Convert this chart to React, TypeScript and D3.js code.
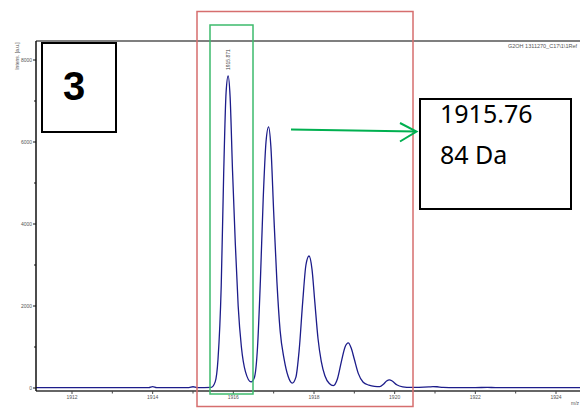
import React from "react";
import * as d3 from "d3";

// Spectrum profile (m/z, intensity in a.u.)
const mzValues = [
  1911.1, 1913.9, 1914.0, 1914.1, 1914.9, 1915.0, 1915.1, 1915.45, 1915.55, 1915.62, 1915.7,
  1915.76, 1915.82, 1915.871, 1915.92, 1915.98, 1916.05, 1916.12, 1916.2, 1916.3, 1916.44,
  1916.52, 1916.6, 1916.67, 1916.74, 1916.81, 1916.874, 1916.93, 1917.0, 1917.08, 1917.16,
  1917.26, 1917.36, 1917.46, 1917.55, 1917.63, 1917.72, 1917.8, 1917.877, 1917.95, 1918.02,
  1918.1, 1918.18, 1918.27, 1918.38, 1918.48, 1918.58, 1918.68, 1918.77, 1918.85, 1918.92,
  1919.0, 1919.1, 1919.22, 1919.36, 1919.5, 1919.63, 1919.72, 1919.8, 1919.87, 1919.94,
  1920.05, 1920.2, 1920.4, 1920.6, 1920.85, 1920.95, 1921.05, 1921.2, 1921.5, 1922.0,
  1922.3, 1922.5, 1924.7,
];
const intensityValues = [
  10, 10, 35, 10, 10, 30, 10, 15, 150, 700, 2500,
  5200, 7200, 7610, 7100, 5300, 3500, 2000, 1000, 400, 150,
  250, 1000, 2600, 4600, 6000, 6370, 5900, 4300, 2600, 1400,
  700, 280, 120, 260, 900, 2100, 3000, 3220, 2900, 2100,
  1200, 650, 300, 110, 60, 220, 650, 1000, 1100, 980,
  700, 350, 140, 70, 40, 35, 90, 170, 200, 170,
  80, 30, 15, 15, 25, 35, 30, 15, 10, 10,
  15, 10, 10,
];

const xTickValues = [1912, 1914, 1916, 1918, 1920, 1922, 1924];
const xMinorTicks = [1913, 1915, 1917, 1919, 1921, 1923];
const yTickValues = [0, 2000, 4000, 6000, 8000];
const yMinorTicks = [1000, 3000, 5000, 7000];

const peakLabel = "1915.871";
const peakLabelMz = 1915.871;
const peakLabelIntensity = 7610;
const sampleName = "G2OH 1311270_C17\\1\\1Ref";
const yAxisTitle = "Intens. [a.u.]";
const xAxisTitle = "m/z";
const panelNumber = "3";
const massLine1 = "1915.76";
const massLine2 = "84 Da";

export default function App() {
  const W = 580;
  const H = 416;
  const left = 36;
  const top = 41;
  const axisY = 391;

  const x = d3.scaleLinear().domain([1912, 1924]).range([72, 556]);
  const y = d3.scaleLinear().domain([0, 8000]).range([388, 60]);

  const points = mzValues.map((m, i) => [m, intensityValues[i]] as [number, number]);
  const line = d3
    .line<[number, number]>()
    .x((d) => x(d[0]))
    .y((d) => y(d[1]))
    .curve(d3.curveMonotoneX);

  const tickFont = "Liberation Sans, Arial, sans-serif";

  return (
    <svg
      width={W}
      height={H}
      viewBox={`0 0 ${W} ${H}`}
      style={{ position: "absolute", left: 0, top: 0, background: "#fff" }}
    >
      <defs>
        <clipPath id="plotclip">
          <rect x={left} y={top} width={W - left} height={axisY - top} />
        </clipPath>
      </defs>

      {/* top frame line */}
      <line x1={left} x2={W} y1={top} y2={top} stroke="#555" strokeWidth={1.5} />

      {/* spectrum */}
      <path
        d={line(points) || ""}
        fill="none"
        stroke="#1c1c8a"
        strokeWidth={1.3}
        clipPath="url(#plotclip)"
      />

      {/* x axis */}
      <line x1={left} x2={W} y1={axisY} y2={axisY} stroke="#666" strokeWidth={2} />
      {xTickValues.map((t) => (
        <g key={"xt" + t}>
          <line x1={x(t)} x2={x(t)} y1={axisY} y2={axisY + 3} stroke="#444" strokeWidth={1} />
          <text
            x={x(t)}
            y={399}
            fontSize={5}
            fill="#555"
            textAnchor="middle"
            fontFamily={tickFont}
          >
            {t}
          </text>
        </g>
      ))}
      {xMinorTicks.map((t) => (
        <line key={"xm" + t} x1={x(t)} x2={x(t)} y1={axisY} y2={axisY + 2.5} stroke="#444" strokeWidth={1} />
      ))}
      <text x={575} y={405} fontSize={5} fill="#555" textAnchor="middle" fontFamily={tickFont}>
        {xAxisTitle}
      </text>

      {/* y axis */}
      <line x1={left} x2={left} y1={top} y2={axisY} stroke="#111" strokeWidth={1.5} />
      {yTickValues.map((t) => (
        <g key={"yt" + t}>
          <line x1={left - 3} x2={left} y1={y(t)} y2={y(t)} stroke="#111" strokeWidth={1} />
          <text
            x={left - 4}
            y={y(t) + 1.7}
            fontSize={5}
            fill="#555"
            textAnchor="end"
            fontFamily={tickFont}
          >
            {t}
          </text>
        </g>
      ))}
      {yMinorTicks.map((t) => (
        <line key={"ym" + t} x1={left - 2} x2={left} y1={y(t)} y2={y(t)} stroke="#111" strokeWidth={1} />
      ))}
      <text
        transform={`translate(19,56) rotate(-90)`}
        fontSize={5}
        fill="#555"
        textAnchor="middle"
        fontFamily={tickFont}
      >
        {yAxisTitle}
      </text>

      {/* sample name */}
      <text x={577} y={48} fontSize={5.5} fill="#555" textAnchor="end" fontFamily={tickFont}>
        {sampleName}
      </text>

      {/* peak label */}
      <text
        transform={`translate(${x(peakLabelMz) + 1.8},${y(peakLabelIntensity) - 6}) rotate(-90)`}
        fontSize={5}
        fill="#444"
        textAnchor="start"
        fontFamily={tickFont}
      >
        {peakLabel}
      </text>

      {/* red selection rectangle */}
      <rect x={197} y={11.5} width={216} height={395} fill="none" stroke="#d66e6e" strokeWidth={1.5} />
      {/* green peak rectangle */}
      <rect x={210} y={25} width={43} height={369} fill="none" stroke="#3dbb6c" strokeWidth={1.5} />

      {/* panel number box */}
      <rect x={42} y={43} width={74} height={89} fill="#fff" stroke="#000" strokeWidth={2} />
      <text
        x={74}
        y={100}
        fontSize={40}
        fontWeight="bold"
        textAnchor="middle"
        fontFamily="Liberation Sans, Arial, sans-serif"
        fill="#000"
      >
        {panelNumber}
      </text>

      {/* arrow */}
      <line x1={291} y1={129.5} x2={416} y2={131.5} stroke="#00b050" strokeWidth={2} />
      <polyline
        points="400,123 416.5,131.5 400,141.5"
        fill="none"
        stroke="#00b050"
        strokeWidth={2}
      />

      {/* mass box */}
      <rect x={420} y={99} width={151} height={110} fill="#fff" stroke="#000" strokeWidth={2} />
      <text x={440} y={123} fontSize={25} fill="#000" fontFamily="Noto Sans, sans-serif">
        {massLine1}
      </text>
      <text x={440} y={164} fontSize={25} fill="#000" fontFamily="Noto Sans, sans-serif">
        {massLine2}
      </text>
    </svg>
  );
}
